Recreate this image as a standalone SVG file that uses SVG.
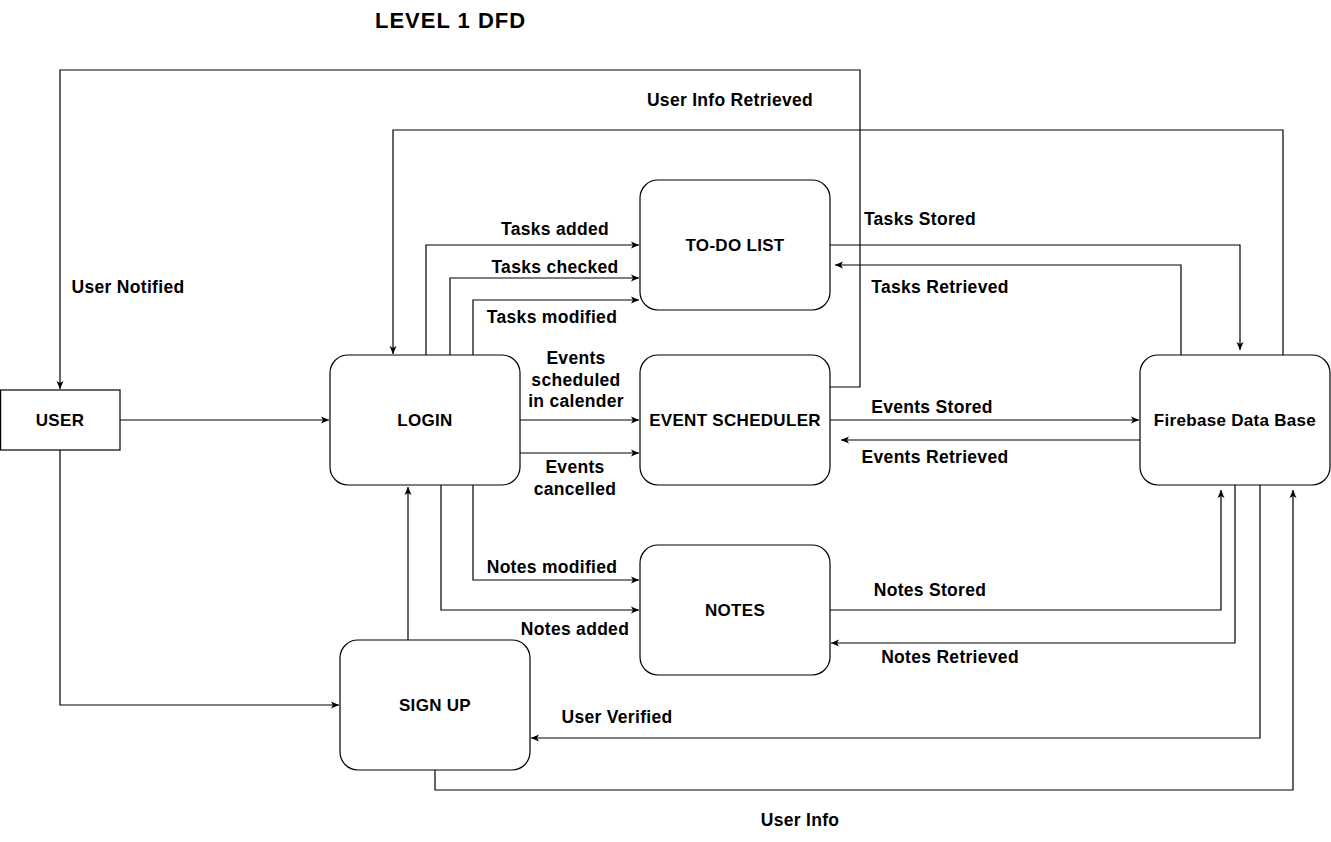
<svg xmlns="http://www.w3.org/2000/svg" width="1331" height="842" viewBox="0 0 1331 842">
<style>
.bg{fill:#ffffff}
.box{fill:#ffffff;stroke:#000000;stroke-width:1.2}
.node{font-family:"Liberation Sans",Arial,sans-serif;font-weight:bold;font-size:17px;letter-spacing:0.3px;fill:#000000;text-anchor:middle}
.lbl{font-family:"Liberation Sans",Arial,sans-serif;font-weight:bold;font-size:17.5px;letter-spacing:0.3px;fill:#000000;text-anchor:middle}
.title{font-family:"Liberation Sans",Arial,sans-serif;font-weight:bold;font-size:22px;fill:#000000;letter-spacing:1px}
.edge{fill:none;stroke:#000000;stroke-width:1.2;marker-end:url(#arr)}
</style>
<defs>
<marker id="arr" markerWidth="10" markerHeight="8" refX="8" refY="4" orient="auto" markerUnits="userSpaceOnUse">
<path d="M0,0.5 L8,4 L0,7.5 L2,4 Z" fill="#000000"/>
</marker>
</defs>
<rect class="bg" x="0" y="0" width="1331" height="842"/>
<text class="title" x="375" y="28">LEVEL 1 DFD</text>

<g id="connectors">
<path class="edge" d="M120,420 L329,420"/>
<path class="edge" d="M60,450 L60,705 L339,705"/>
<path class="edge" d="M408,640 L408,487"/>
<path class="edge" d="M830,387 L860,387 L860,70 L60,70 L60,389"/>
<path class="edge" d="M1283,355 L1283,130 L393,130 L393,354"/>
<path class="edge" d="M426,355 L426,245 L639,245"/>
<path class="edge" d="M450,355 L450,278 L639,278"/>
<path class="edge" d="M473,355 L473,300 L639,300"/>
<path class="edge" d="M520,420 L639,420"/>
<path class="edge" d="M520,453 L639,453"/>
<path class="edge" d="M830,245 L1240,245 L1240,350"/>
<path class="edge" d="M1181,355 L1181,265 L835,265"/>
<path class="edge" d="M830,420 L1139,420"/>
<path class="edge" d="M1140,440 L841,440"/>
<path class="edge" d="M473,485 L473,580 L639,580"/>
<path class="edge" d="M441,485 L441,610 L639,610"/>
<path class="edge" d="M830,610 L1221,610 L1221,490"/>
<path class="edge" d="M1235,485 L1235,643 L831,643"/>
<path class="edge" d="M1260,485 L1260,738 L531,738"/>
<path class="edge" d="M435,770 L435,790 L1293,790 L1293,490"/>
</g>

<g id="labels">
<text class="lbl" x="730" y="100" dy="0.35em">User Info Retrieved</text>
<text class="lbl" x="128" y="287" dy="0.35em">User Notified</text>
<text class="lbl" x="555" y="229" dy="0.35em">Tasks added</text>
<text class="lbl" x="555" y="267" dy="0.35em">Tasks checked</text>
<text class="lbl" x="552" y="317" dy="0.35em">Tasks modified</text>
<text class="lbl" x="576" y="358" dy="0.35em">Events</text>
<text class="lbl" x="576" y="380" dy="0.35em">scheduled</text>
<text class="lbl" x="576" y="401" dy="0.35em">in calender</text>
<text class="lbl" x="575" y="467" dy="0.35em">Events</text>
<text class="lbl" x="575" y="489" dy="0.35em">cancelled</text>
<text class="lbl" x="920" y="219" dy="0.35em">Tasks Stored</text>
<text class="lbl" x="940" y="287" dy="0.35em">Tasks Retrieved</text>
<text class="lbl" x="932" y="407" dy="0.35em">Events Stored</text>
<text class="lbl" x="935" y="457" dy="0.35em">Events Retrieved</text>
<text class="lbl" x="552" y="567" dy="0.35em">Notes modified</text>
<text class="lbl" x="575" y="629" dy="0.35em">Notes added</text>
<text class="lbl" x="930" y="590" dy="0.35em">Notes Stored</text>
<text class="lbl" x="950" y="657" dy="0.35em">Notes Retrieved</text>
<text class="lbl" x="617" y="717" dy="0.35em">User Verified</text>
<text class="lbl" x="800" y="820" dy="0.35em">User Info</text>
</g>

<g id="user">
<rect class="box" x="0.6" y="390" width="119.4" height="60"/>
<text class="node" x="60" y="420" dy="0.35em">USER</text>
</g>
<g id="login">
<rect class="box" x="330" y="355" width="190" height="130" rx="18" ry="18"/>
<text class="node" x="425" y="420" dy="0.35em">LOGIN</text>
</g>
<g id="todo">
<rect class="box" x="640" y="180" width="190" height="130" rx="18" ry="18"/>
<text class="node" x="735" y="245" dy="0.35em">TO-DO LIST</text>
</g>
<g id="event-scheduler">
<rect class="box" x="640" y="355" width="190" height="130" rx="18" ry="18"/>
<text class="node" x="735" y="420" dy="0.35em">EVENT SCHEDULER</text>
</g>
<g id="notes">
<rect class="box" x="640" y="545" width="190" height="130" rx="18" ry="18"/>
<text class="node" x="735" y="610" dy="0.35em">NOTES</text>
</g>
<g id="signup">
<rect class="box" x="340" y="640" width="190" height="130" rx="18" ry="18"/>
<text class="node" x="435" y="705" dy="0.35em">SIGN UP</text>
</g>
<g id="firebase">
<rect class="box" x="1140" y="355" width="190" height="130" rx="18" ry="18"/>
<text class="node" x="1235" y="420" dy="0.35em">Firebase Data Base</text>
</g>
</svg>
